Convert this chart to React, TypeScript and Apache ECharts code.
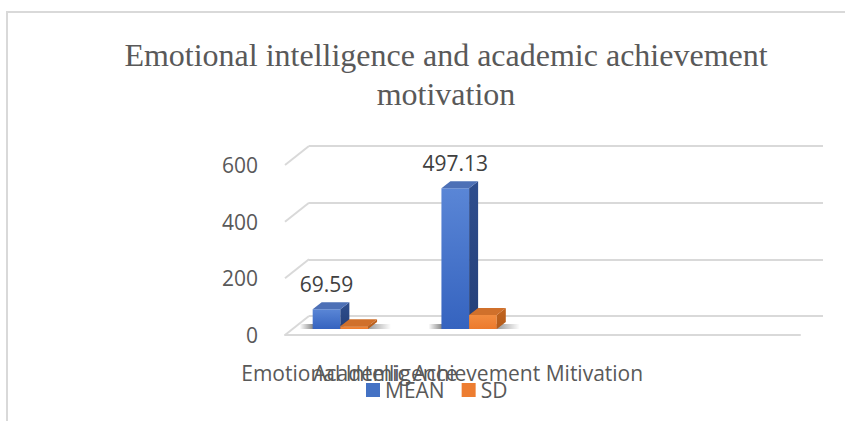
import React, { useEffect, useRef } from "react";
import * as echarts from "echarts";

const titleText = "Emotional intelligence and academic achievement\nmotivation";
const categories = ["Emotional Intelligence", "Academic Achievement Mitivation", "", ""];
const seriesNames = ["MEAN", "SD"];
const meanValues: (number | null)[] = [69.59, 497.13, null, null];
const sdValues: (number | null)[] = [9.8, 49.6, null, null];
const yTicks = [0, 200, 400, 600];

const FONT = "'Open Sans', 'Noto Sans', sans-serif";
const DX = 9;
const DY = -7;
const LIFT = 6;

const palette = [
  {
    legend: "#4472C4",
    front: ["#5A86D6", "#3563BF"],
    side: ["#2F4E8E", "#243F78"],
    top: "#4D70B6",
  },
  {
    legend: "#ED7D31",
    front: ["#F28C40", "#EC7A2C"],
    side: ["#C2651F", "#B25A1A"],
    top: "#D0702B",
  },
];

function makeBarRender(seriesIdx: number, withLabel: boolean) {
  return (params: any, api: any) => {
    const cat = api.value(0);
    const val = api.value(1);
    if (val == null || isNaN(val)) return null;
    const base = api.coord([cat, 0]);
    const topPt = api.coord([cat, val]);
    const band = api.size([1, 0])[0];
    const bw = band * 0.215;
    const groupLeft = base[0] - band * 0.285;
    const left = groupLeft + seriesIdx * bw;
    const baseY = base[1] - LIFT;
    const topY = topPt[1] - LIFT;
    const c = palette[seriesIdx];
    const children: any[] = [];
    if (seriesIdx === 0) {
      const sw = bw * 2 + 36;
      children.push({
        type: "rect",
        shape: { x: groupLeft - 13, y: baseY - 5, width: sw, height: 5 },
        style: {
          fill: new echarts.graphic.LinearGradient(0, 0, 1, 0, [
            { offset: 0, color: "rgba(0,0,0,0)" },
            { offset: 13 / sw, color: "rgba(0,0,0,0.45)" },
            { offset: (13 + bw * 2) / sw, color: "rgba(0,0,0,0.4)" },
            { offset: 1, color: "rgba(0,0,0,0)" },
          ]),
        },
        z2: 0,
      });
    }
    children.push({
      type: "rect",
      shape: { x: left, y: topY, width: bw, height: baseY - topY },
      style: {
        fill: new echarts.graphic.LinearGradient(0, 0, 0, 1, [
          { offset: 0, color: c.front[0] },
          { offset: 1, color: c.front[1] },
        ]),
      },
      z2: 2,
    });
    children.push({
      type: "polygon",
      shape: {
        points: [
          [left + bw, topY],
          [left + bw + DX, topY + DY],
          [left + bw + DX, baseY + DY],
          [left + bw, baseY],
        ],
      },
      style: {
        fill: new echarts.graphic.LinearGradient(0, 0, 0, 1, [
          { offset: 0, color: c.side[0] },
          { offset: 1, color: c.side[1] },
        ]),
      },
      z2: 2,
    });
    children.push({
      type: "polygon",
      shape: {
        points: [
          [left, topY],
          [left + DX, topY + DY],
          [left + bw + DX, topY + DY],
          [left + bw, topY],
        ],
      },
      style: { fill: c.top },
      z2: 2,
    });
    if (withLabel) {
      children.push({
        type: "text",
        x: left + bw / 2,
        y: topY - 25,
        style: {
          text: String(val),
          textAlign: "center",
          textVerticalAlign: "middle",
          fontSize: 21,
          fontFamily: FONT,
          fill: "#404040",
        },
        z2: 5,
      });
    }
    return { type: "group", children };
  };
}

export default function App() {
  const ref = useRef<HTMLDivElement>(null);
  useEffect(() => {
    if (!ref.current) return;
    const chart = echarts.init(ref.current, undefined, { renderer: "svg" });
    const meanData = categories.map((_, i) => [i, meanValues[i]]);
    const sdData = categories.map((_, i) => [i, sdValues[i]]);
    const option: any = {
      animation: false,
      backgroundColor: "#ffffff",
      graphic: [
        {
          type: "rect",
          shape: { x: 7, y: 12, width: 900, height: 500 },
          style: { fill: "none", stroke: "#d9d9d9", lineWidth: 2 },
          silent: true,
        },
        {
          type: "text",
          x: 446,
          y: 35,
          style: {
            text: titleText,
            textAlign: "center",
            textVerticalAlign: "top",
            fontFamily: "'Liberation Serif', 'Times New Roman', serif",
            fontSize: 32,
            lineHeight: 39,
            fill: "#595959",
          },
        },
      ],
      legend: {
        data: seriesNames,
        left: 366,
        top: 379,
        padding: 0,
        itemWidth: 14,
        itemHeight: 14,
        itemGap: 17,
        icon: "rect",
        textStyle: { fontSize: 21, color: "#595959", fontFamily: FONT, lineHeight: 22 },
      },
      grid: [
        { left: 285, right: 45, top: 165, bottom: 86 },
        { left: 309, right: 22, top: 146, bottom: 105 },
      ],
      xAxis: [
        {
          type: "category",
          gridIndex: 0,
          data: categories,
          axisLine: { show: true, lineStyle: { color: "#d9d9d9", width: 2 } },
          axisTick: { show: false },
          axisLabel: {
            interval: 0,
            margin: 27,
            fontSize: 21,
            color: "#595959",
            fontFamily: FONT,
            lineHeight: 21,
          },
          splitLine: { show: false },
        },
        { type: "category", gridIndex: 1, data: categories, show: false },
      ],
      yAxis: [
        {
          type: "value",
          gridIndex: 0,
          min: 0,
          max: 600,
          interval: 200,
          axisLine: { show: false },
          axisTick: { show: false },
          splitLine: { show: false },
          axisLabel: { margin: 27, fontSize: 21, color: "#595959", fontFamily: FONT },
        },
        {
          type: "value",
          gridIndex: 1,
          min: 0,
          max: 600,
          interval: 200,
          axisLine: { show: false },
          axisTick: { show: false },
          axisLabel: { show: false },
          splitLine: { show: true, lineStyle: { color: "#d9d9d9", width: 2 } },
        },
      ],
      series: [
        {
          type: "custom",
          name: "walls",
          xAxisIndex: 0,
          yAxisIndex: 0,
          silent: true,
          data: yTicks.map((v) => [0, v]),
          encode: { x: 0, y: 1 },
          renderItem: (params: any, api: any) => {
            const p = api.coord([0, api.value(1)]);
            const x0 = params.coordSys.x;
            return {
              type: "line",
              shape: { x1: x0, y1: p[1], x2: x0 + 24, y2: p[1] - 19 },
              style: { stroke: "#d9d9d9", lineWidth: 2 },
            };
          },
          z: 1,
        },
        {
          type: "custom",
          name: seriesNames[0],
          xAxisIndex: 0,
          yAxisIndex: 0,
          data: meanData,
          encode: { x: 0, y: 1 },
          itemStyle: { color: palette[0].legend },
          renderItem: makeBarRender(0, true),
          z: 3,
        },
        {
          type: "custom",
          name: seriesNames[1],
          xAxisIndex: 0,
          yAxisIndex: 0,
          data: sdData,
          encode: { x: 0, y: 1 },
          itemStyle: { color: palette[1].legend },
          renderItem: makeBarRender(1, false),
          z: 4,
        },
      ],
    };
    chart.setOption(option);
    return () => chart.dispose();
  }, []);
  return (
    <div
      ref={ref}
      style={{ position: "absolute", left: 0, top: 0, width: 845, height: 421 }}
    />
  );
}
